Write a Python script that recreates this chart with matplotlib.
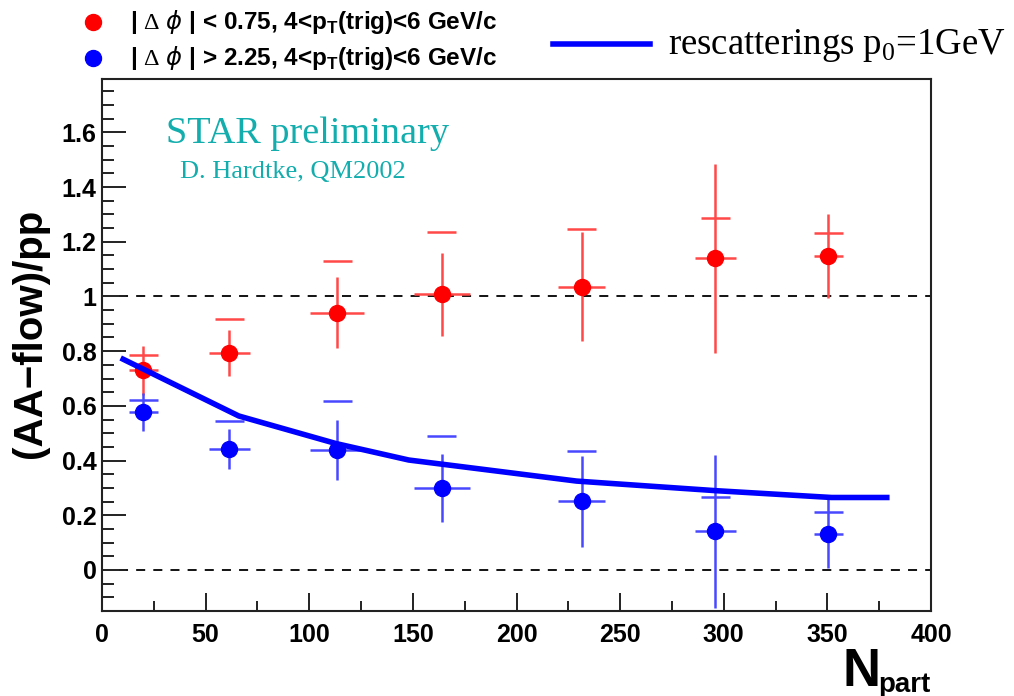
import matplotlib
matplotlib.use('Agg')
import matplotlib.pyplot as plt
from matplotlib.lines import Line2D
from matplotlib.ticker import MultipleLocator

plt.rcParams['mathtext.fontset'] = 'custom'
plt.rcParams['mathtext.rm'] = 'Liberation Serif'
plt.rcParams['mathtext.bf'] = 'Liberation Sans:bold'

# data
npart = [20, 61.5, 113.5, 164, 231.5, 296, 350.5]
npart_err = [7, 10, 13, 13.5, 11.3, 10, 7]

near_y = [0.73, 0.794, 0.94, 1.008, 1.036, 1.139, 1.148]
near_stat = [0.09, 0.085, 0.13, 0.152, 0.198, 0.346, 0.155]
near_sys = [0.785, 0.918, 1.13, 1.234, 1.245, 1.288, 1.233]

away_y = [0.578, 0.442, 0.44, 0.299, 0.251, 0.142, 0.133]
away_stat = [0.07, 0.072, 0.11, 0.125, 0.166, 0.28, 0.127]
away_sys = [0.622, 0.545, 0.616, 0.491, 0.436, 0.267, 0.212]

model_x = [9, 66, 113, 148, 229, 296, 352, 380]
model_y = [0.775, 0.563, 0.462, 0.402, 0.325, 0.29, 0.265, 0.265]

W, H = 1014, 696
fig = plt.figure(figsize=(W / 100, H / 100), dpi=100)
ax = fig.add_axes([102 / W, 1 - 611 / H, 829 / W, 532 / H])

sans = ['Liberation Sans', 'DejaVu Sans']
serif = ['Liberation Serif', 'DejaVu Serif']

# reference lines
ax.hlines([0, 1], 8, 400, colors='black', linestyles=(0, (5, 4.5)), linewidth=1.3, zorder=1)

# systematic caps
cap = 7
for ys, col in ((near_sys, '#ff4848'), (away_sys, '#4848ff')):
    ax.hlines(ys, [x - cap for x in npart], [x + cap for x in npart], colors=col, linewidth=1.8, zorder=2)

# points with stat errors
ax.errorbar(npart, near_y, xerr=npart_err, yerr=near_stat, fmt='o', color='#ff0000',
            ecolor='#ff4848', elinewidth=1.8, capsize=0, ms=11.5, zorder=3)
ax.errorbar(npart, away_y, xerr=npart_err, yerr=away_stat, fmt='o', color='#0000ff',
            ecolor='#4848ff', elinewidth=1.8, capsize=0, ms=11.5, zorder=3)

# rescattering calculation
ax.plot(model_x, model_y, color='#0000ff', linewidth=4, zorder=4, solid_capstyle='butt')

ax.set_xlim(0, 400)
ax.set_ylim(-0.15, 1.795)
ax.xaxis.set_major_locator(MultipleLocator(50))
ax.xaxis.set_minor_locator(MultipleLocator(25))
ax.yaxis.set_major_locator(MultipleLocator(0.2))
ax.yaxis.set_minor_locator(MultipleLocator(0.05))
ax.yaxis.set_major_formatter(plt.FuncFormatter(lambda v, p: f'{v:g}'))

ax.tick_params(axis='both', which='both', direction='in', top=False, right=False,
               width=1.4, color='#222222')
ax.tick_params(axis='y', which='major', length=17, pad=4)
ax.tick_params(axis='y', which='minor', length=8.5)
ax.tick_params(axis='x', which='major', length=13, pad=9)
ax.tick_params(axis='x', which='minor', length=7)
for lab in ax.get_xticklabels() + ax.get_yticklabels():
    lab.set_fontfamily(sans)
    lab.set_fontweight('bold')
    lab.set_fontsize(18)
for sp in ax.spines.values():
    sp.set_linewidth(1.5)
    sp.set_color('#222222')

# axis titles
fig.text(30 / W, 1 - 333 / H, '(AA\u2212flow)/pp', rotation=90, ha='center', va='center',
         fontsize=29, fontweight='bold', family=sans)
fig.text(880 / W, 1 - 686 / H, 'N', ha='right', va='baseline', fontsize=38,
         fontweight='bold', family=sans)
fig.text(878 / W, 1 - 692 / H, 'part', ha='left', va='baseline', fontsize=20,
         fontweight='bold', family=sans)

# annotations
fig.text(166 / W, 1 - 143 / H, 'STAR preliminary', color='#13adad', fontsize=27.5,
         family=serif, va='baseline')
fig.text(180 / W, 1 - 178 / H, 'D. Hardtke, QM2002', color='#13adad', fontsize=19,
         family=serif, va='baseline')

# legend
fig.add_artist(Line2D([93 / W], [1 - 22 / H], marker='o', color='#ff0000', ms=11.5,
                      transform=fig.transFigure))
fig.add_artist(Line2D([93 / W], [1 - 58 / H], marker='o', color='#0000ff', ms=11.5,
                      transform=fig.transFigure))
fig.add_artist(Line2D([553 / W, 650 / W], [1 - 44 / H, 1 - 44 / H], color='#0000ff',
                      linewidth=4, transform=fig.transFigure))
fig.text(130 / W, 1 - 22 / H, r'| $\Delta$ $\phi$ | < 0.75, 4<p$_{\mathbf{T}}$(trig)<6 GeV/c',
         fontsize=17.5, fontweight='bold', family=sans, va='center')
fig.text(130 / W, 1 - 58 / H, r'| $\Delta$ $\phi$ | > 2.25, 4<p$_{\mathbf{T}}$(trig)<6 GeV/c',
         fontsize=17.5, fontweight='bold', family=sans, va='center')
fig.text(668 / W, 1 - 54 / H, r'rescatterings p$_{\mathrm{0}}$=1GeV', fontsize=26.5,
         family=serif, va='baseline')

fig.savefig('out.png', dpi=100)
